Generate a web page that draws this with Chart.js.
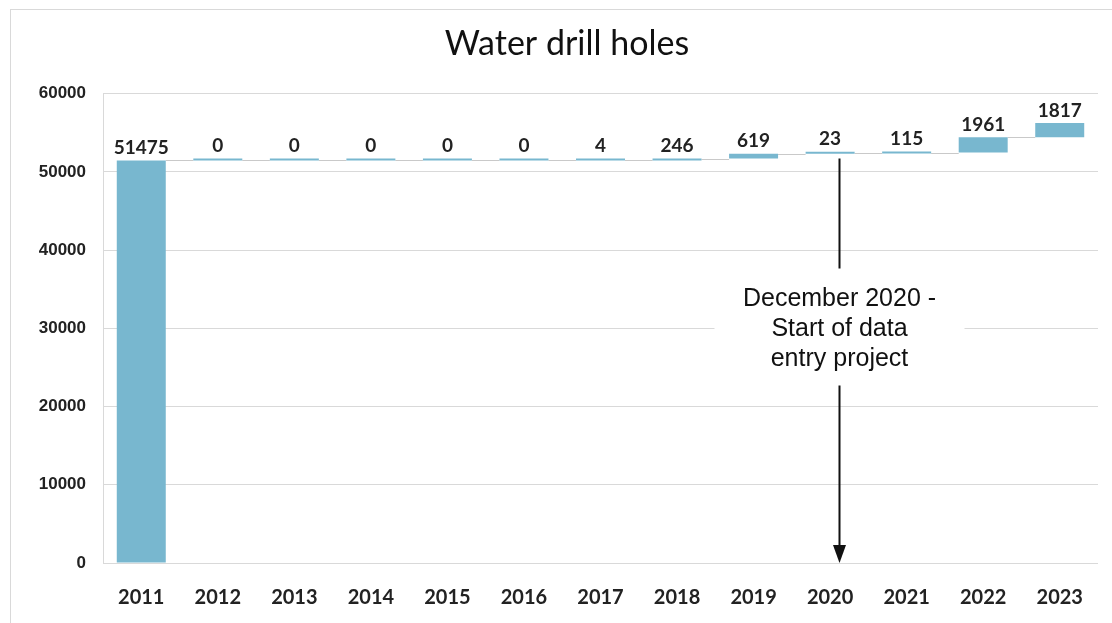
<!DOCTYPE html>
<html>
<head>
<meta charset="utf-8">
<script src="https://cdn.jsdelivr.net/npm/chart.js@4.4.1/dist/chart.umd.min.js"></script>
<style>
    html, body { margin: 0; padding: 0; background: #fff; }
    .wrap { position: relative; width: 1112px; height: 623px; overflow: hidden; }
    .frame { position: absolute; left: 10px; top: 9px; width: 1200px; height: 700px; border: 1px solid #d9d9d9; box-sizing: border-box; }
    canvas { position: absolute; left: 0; top: 0; }
</style>
</head>
<body>
<div class="wrap">
    <div class="frame"></div>
    <canvas id="waterfallChart" width="1112" height="623"></canvas>
</div>
<script>
document.addEventListener('DOMContentLoaded', function() {
    // --- DATA ---
    const years = ['2011', '2012', '2013', '2014', '2015', '2016', '2017', '2018', '2019', '2020', '2021', '2022', '2023'];
    const increments = [51475, 0, 0, 0, 0, 0, 4, 246, 619, 23, 115, 1961, 1817];
    const noteYear = '2020';
    const noteLines = ['December 2020 -', 'Start of data', 'entry project'];

    const barColor = '#78b7cf';
    const gridColor = '#d9d9d9';
    const calibriLike = 'Lato, "Open Sans", sans-serif';

    // running totals -> floating bars [start, end]
    let running = 0;
    const floating = increments.map(v => {
        const start = running;
        running += v;
        return [start, running];
    });

    // --- PLUGINS ---
    const connectorPlugin = {
        id: 'connectors',
        beforeDatasetsDraw(chart) {
            const ctx = chart.ctx;
            const meta = chart.getDatasetMeta(0);
            const y = chart.scales.y;
            ctx.save();
            ctx.strokeStyle = '#c9c9c9';
            ctx.lineWidth = 1;
            for (let i = 0; i < meta.data.length - 1; i++) {
                const a = meta.data[i], b = meta.data[i + 1];
                const py = Math.round(y.getPixelForValue(floating[i][1])) + 0.5;
                ctx.beginPath();
                ctx.moveTo(a.x + a.width / 2, py);
                ctx.lineTo(b.x - b.width / 2, py);
                ctx.stroke();
            }
            ctx.restore();
        }
    };

    const valueLabelPlugin = {
        id: 'valueLabels',
        afterDatasetsDraw(chart) {
            const ctx = chart.ctx;
            const meta = chart.getDatasetMeta(0);
            ctx.save();
            ctx.font = 'bold 19px ' + calibriLike;
            ctx.fillStyle = '#222';
            ctx.textAlign = 'center';
            ctx.textBaseline = 'bottom';
            meta.data.forEach((bar, i) => {
                const top = Math.min(bar.y, bar.base);
                ctx.fillText(String(increments[i]), bar.x, top - 3);
            });
            ctx.restore();
        }
    };

    // hand-placed arrow in the original sits a little right of the 2020 centre
    const notePlugin = {
        id: 'note',
        afterDraw(chart) {
            const ctx = chart.ctx;
            const idx = years.indexOf(noteYear);
            const x = Math.round(chart.scales.x.getPixelForValue(idx)) + 9.5;
            const yScale = chart.scales.y;
            const startY = yScale.getPixelForValue(floating[idx][1]) + 5;
            const endY = yScale.getPixelForValue(0);
            const textCenter = yScale.getPixelForValue(30000);
            const lineH = 30;

            ctx.save();
            ctx.fillStyle = '#fff';
            ctx.fillRect(x - 125, textCenter - lineH * 1.5 - 14, 250, lineH * 3 + 28);

            ctx.strokeStyle = '#111';
            ctx.lineWidth = 2;
            ctx.beginPath();
            ctx.moveTo(x, startY);
            ctx.lineTo(x, textCenter - lineH * 1.5 - 15);
            ctx.moveTo(x, textCenter + lineH * 1.5 + 12);
            ctx.lineTo(x, endY - 16);
            ctx.stroke();

            ctx.fillStyle = '#111';
            ctx.beginPath();
            ctx.moveTo(x - 6.5, endY - 18);
            ctx.lineTo(x + 6.5, endY - 18);
            ctx.lineTo(x, endY);
            ctx.closePath();
            ctx.fill();

            ctx.font = '25px "Liberation Sans", Arial, sans-serif';
            ctx.textAlign = 'center';
            ctx.textBaseline = 'middle';
            noteLines.forEach((t, i) => {
                ctx.fillText(t, x, textCenter + 1 + (i - 1) * lineH);
            });
            ctx.restore();
        }
    };

    new Chart(document.getElementById('waterfallChart'), {
        type: 'bar',
        data: {
            labels: years,
            datasets: [{
                label: 'Water drill holes',
                data: floating,
                backgroundColor: barColor,
                borderWidth: 0,
                minBarLength: 2,
                categoryPercentage: 1,
                barPercentage: 0.64
            }]
        },
        options: {
            responsive: false,
            animation: false,
            layout: { padding: { left: 36, right: 14, top: 5, bottom: 0 } },
            plugins: {
                legend: { display: false },
                tooltip: { enabled: false },
                title: {
                    display: true,
                    text: 'Water drill holes',
                    color: '#111',
                    font: { family: calibriLike, size: 34, weight: 'normal' },
                    padding: { top: 19, bottom: 29 }
                }
            },
            scales: {
                x: {
                    afterFit: s => { s.height = 60; },
                    grid: { display: false, drawTicks: false },
                    border: { display: false },
                    ticks: {
                        color: '#222',
                        padding: 23,
                        font: { family: calibriLike, size: 20, weight: 'bold' }
                    }
                },
                y: {
                    min: 0,
                    max: 60000,
                    afterFit: s => { s.width = 67; },
                    grid: { color: gridColor, drawTicks: false },
                    border: { display: true, color: gridColor },
                    ticks: {
                        stepSize: 10000,
                        color: '#222',
                        padding: 17,
                        callback: v => String(v),
                        font: { family: '"Liberation Sans", Arial, sans-serif', size: 17, weight: 'bold' }
                    }
                }
            }
        },
        plugins: [connectorPlugin, valueLabelPlugin, notePlugin]
    });
});
</script>
</body>
</html>
